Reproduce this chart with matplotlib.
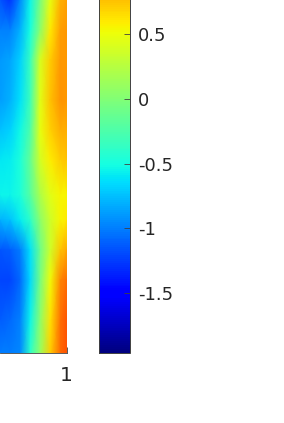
import numpy as np
import matplotlib
matplotlib.use('Agg')
import matplotlib.pyplot as plt
from matplotlib.ticker import FormatStrFormatter

plt.rcParams['axes.unicode_minus'] = False

# field, rows top to bottom
x_vals = [0.67, 0.72, 0.77, 0.82, 0.87, 0.92, 0.97, 1.0]
y_vals = [1.0, 0.915, 0.83, 0.717, 0.632, 0.547, 0.448, 0.377, 0.292, 0.207, 0.093, 0.0]
row_1 = [-1.15, -1.28, -0.95, -0.55, -0.05, 0.48, 0.82, 0.88]
row_2 = [-0.98, -0.98, -0.8, -0.5, 0.05, 0.6, 0.9, 0.92]
row_3 = [-0.9, -0.85, -0.68, -0.36, 0.4, 0.72, 0.93, 0.92]
row_4 = [-0.88, -0.8, -0.62, -0.32, 0.45, 0.76, 0.94, 0.92]
row_5 = [-0.75, -0.68, -0.53, -0.25, 0.48, 0.7, 0.84, 0.84]
row_6 = [-0.6, -0.58, -0.48, -0.15, 0.38, 0.58, 0.72, 0.75]
row_7 = [-0.55, -0.55, -0.48, -0.2, 0.2, 0.45, 0.55, 0.55]
row_8 = [-0.8, -0.74, -0.58, -0.4, 0.05, 0.35, 0.55, 0.6]
row_9 = [-1.15, -1.12, -1.0, -0.62, -0.1, 0.35, 0.75, 0.85]
row_10 = [-1.22, -1.22, -1.08, -0.65, -0.05, 0.52, 1.0, 1.1]
row_11 = [-1.12, -1.08, -0.98, -0.55, 0.05, 0.62, 1.1, 1.2]
row_12 = [-1.0, -1.0, -0.95, -0.4, 0.1, 0.72, 1.12, 1.22]
color_min = -1.96
color_max = 1.9
cbar_ticks = [-1.5, -1, -0.5, 0, 0.5]

field = np.array([row_1, row_2, row_3, row_4, row_5, row_6, row_7, row_8, row_9, row_10, row_11, row_12])

W, H = 284, 423
fig = plt.figure(figsize=(W / 100, H / 100), dpi=100)
edge = '#404040'

# both axes run past the figure edge, the reference is a crop
ax = fig.add_axes([0, (H - 353) / H, 66.5 / W, 353 / H])
mesh = ax.pcolormesh(x_vals, y_vals, field, cmap='jet', vmin=color_min, vmax=color_max, shading='gouraud')
ax.set_xlim(0.67, 1)
ax.set_ylim(0, 1)
ax.set_xticks([1])
ax.set_xticklabels(['1'])
ax.set_yticks([])
ax.tick_params(axis='x', direction='in', length=4, width=0.6, color=edge, labelsize=14.5, labelcolor='#262626', pad=9)
ax.spines['left'].set_visible(False)
ax.spines['top'].set_visible(False)
ax.spines['right'].set_visible(False)
ax.spines['bottom'].set_linewidth(0.6)
ax.spines['bottom'].set_color(edge)

cax = fig.add_axes([99 / W, (H - 353) / H, 31 / W, 501 / H])
cbar = fig.colorbar(mesh, cax=cax, ticks=cbar_ticks, format=FormatStrFormatter('%g'))
cax.tick_params(direction='in', length=4, width=0.6, color=edge, labelsize=13, labelcolor='#262626', pad=6)
cbar.outline.set_linewidth(0.7)
cbar.outline.set_edgecolor(edge)

fig.savefig('out.png', dpi=100)
